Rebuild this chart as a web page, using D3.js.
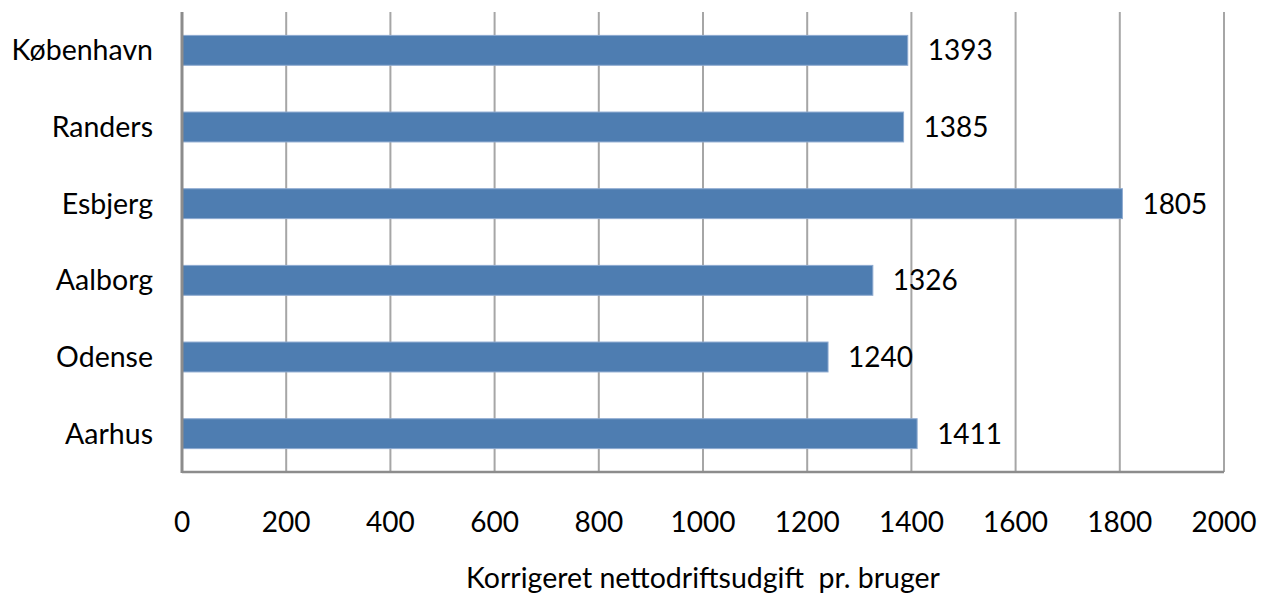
<!DOCTYPE html>
<html>
<head>
<meta charset="utf-8">
<script src="https://cdn.jsdelivr.net/npm/d3@7"></script>
<style>
  body { margin: 0; background: #fff; }
</style>
</head>
<body>
<div id="container"></div>
<script>
// Données
const cities = ["København", "Randers", "Esbjerg", "Aalborg", "Odense", "Aarhus"];
const values = [1393, 1385, 1805, 1326, 1240, 1411];
const xTicks = [0, 200, 400, 600, 800, 1000, 1200, 1400, 1600, 1800, 2000];
const axisTitle = "Korrigeret nettodriftsudgift  pr. bruger";

const width = 1266, height = 601;
const plotLeft = 182, plotRight = 1224, plotTop = 12, plotBottom = 472;
const font = "Lato, 'Open Sans', sans-serif";

const svg = d3.select("#container").append("svg")
  .attr("width", width)
  .attr("height", height);

const x = d3.scaleLinear().domain([0, 2000]).range([plotLeft, plotRight]);
const y = d3.scaleBand().domain(cities).range([plotTop, plotBottom]).paddingInner(0.61).paddingOuter(0.305);

// Grille verticale
svg.append("g").selectAll("line")
  .data(xTicks.slice(1))
  .enter().append("line")
    .attr("x1", d => x(d)).attr("x2", d => x(d))
    .attr("y1", plotTop).attr("y2", plotBottom)
    .attr("stroke", "#a6a6a6")
    .attr("stroke-width", 2);

// Barres
svg.append("g").selectAll("rect")
  .data(values)
  .enter().append("rect")
    .attr("x", x(0))
    .attr("y", (d, i) => y(cities[i]))
    .attr("width", d => x(d) - x(0))
    .attr("height", y.bandwidth())
    .attr("fill", "#4e7db1")
    .attr("stroke", "#8eaad0")
    .attr("stroke-width", 1);

// Axes
svg.append("line")
  .attr("x1", plotLeft).attr("x2", plotRight)
  .attr("y1", plotBottom).attr("y2", plotBottom)
  .attr("stroke", "#8c8c8c").attr("stroke-width", 2.5);
svg.append("line")
  .attr("x1", plotLeft).attr("x2", plotLeft)
  .attr("y1", plotTop).attr("y2", plotBottom + 1)
  .attr("stroke", "#8c8c8c").attr("stroke-width", 3);

// Étiquettes des valeurs
svg.append("g").selectAll("text")
  .data(values)
  .enter().append("text")
    .attr("x", d => x(d) + 20)
    .attr("y", (d, i) => y(cities[i]) + y.bandwidth() / 2 + 10)
    .style("font-family", font)
    .style("font-size", "28px")
    .style("fill", "#000")
    .text(d => d);

// Catégories
svg.append("g").selectAll("text")
  .data(cities)
  .enter().append("text")
    .attr("x", 153)
    .attr("y", d => y(d) + y.bandwidth() / 2 + 10)
    .style("font-family", font)
    .style("font-size", "28.5px")
    .style("text-anchor", "end")
    .style("fill", "#000")
    .text(d => d);

// Graduations
svg.append("g").selectAll("text")
  .data(xTicks)
  .enter().append("text")
    .attr("x", d => x(d))
    .attr("y", 532)
    .style("font-family", font)
    .style("font-size", "28px")
    .style("text-anchor", "middle")
    .style("fill", "#000")
    .text(d => d);

svg.append("text")
  .attr("x", 703)
  .attr("y", 588)
  .style("font-family", font)
  .style("font-size", "28.5px")
  .style("text-anchor", "middle")
  .style("white-space", "pre")
  .text(axisTitle);
</script>
</body>
</html>
